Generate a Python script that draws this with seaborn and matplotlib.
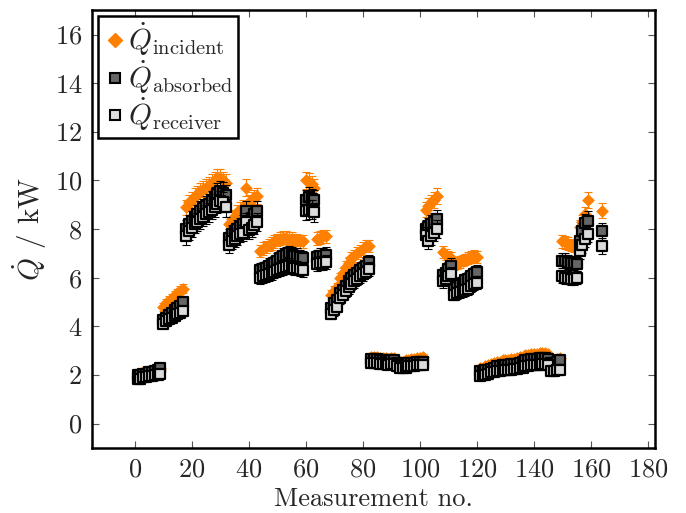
import matplotlib
matplotlib.use("Agg")
import matplotlib.pyplot as plt
from matplotlib.lines import Line2D
import seaborn as sns
import pandas as pd

# ---------------- data ----------------
measurement_no = [
    1, 2, 3, 4, 5, 6, 7, 8, 9,
    10, 11, 12, 13, 14, 15, 16, 17,
    18, 19, 20, 21, 22, 23, 24, 25, 26, 27, 28, 29, 30, 31, 32,
    33, 34, 35, 36, 37, 38, 39, 40, 41, 42, 43,
    44, 45, 46, 47, 48, 49, 50, 51, 52, 53, 54, 55, 56, 57, 58, 59,
    60, 61, 62, 63,
    64, 65, 66, 67,
    69, 70, 71, 72, 73, 74, 75, 76, 77, 78, 79, 80, 81, 82,
    83, 84, 85, 86, 87, 88, 89, 90, 91, 92, 93, 94, 95, 96, 97, 98, 99, 100, 101,
    102, 103, 104, 105, 106,
    108, 109, 110, 111,
    112, 113, 114, 115, 116, 117, 118, 119, 120,
    121, 122, 123, 124, 125, 126, 127, 128, 129, 130, 131, 132, 133, 134, 135,
    136, 137, 138, 139, 140, 141, 142, 143, 144, 145,
    146, 147, 148, 149,
    150, 151, 152, 153, 154, 155,
    156, 157, 158, 159,
    164,
]

q_incident = [
    2.05, 2.05, 2.1, 2.1, 2.15, 2.15, 2.2, 2.25, 2.3,
    4.8, 4.95, 5.05, 5.15, 5.25, 5.35, 5.45, 5.55,
    8.9, 9.1, 9.2, 9.35, 9.45, 9.55, 9.65, 9.7, 9.8, 9.9, 10.0, 10.1, 10.1, 10.0, 9.9,
    8.2, 8.4, 8.5, 8.7, 8.8, 8.9, 9.7, 9.1, 9.2, 9.3, 9.35,
    7.1, 7.2, 7.25, 7.35, 7.4, 7.5, 7.55, 7.6, 7.65, 7.65, 7.6, 7.6, 7.55, 7.55, 7.5, 7.5,
    10.0, 9.95, 9.85, 9.7,
    7.6, 7.65, 7.7, 7.7,
    5.3, 5.45, 5.6, 6.0, 6.2, 6.45, 6.6, 6.8, 6.9, 7.0, 7.1, 7.2, 7.3, 7.3,
    2.75, 2.75, 2.75, 2.7, 2.7, 2.7, 2.65, 2.7, 2.7, 2.6, 2.55, 2.55, 2.6, 2.6, 2.65, 2.65, 2.7, 2.7, 2.75,
    8.8, 8.95, 9.1, 9.2, 9.35,
    7.05, 6.95, 6.85, 6.8,
    6.55, 6.6, 6.65, 6.7, 6.75, 6.8, 6.85, 6.9, 6.85,
    2.3, 2.3, 2.35, 2.4, 2.45, 2.5, 2.55, 2.55, 2.6, 2.6, 2.6, 2.65, 2.65, 2.7, 2.75,
    2.75, 2.8, 2.8, 2.85, 2.85, 2.85, 2.9, 2.9, 2.9, 2.85,
    2.6, 2.6, 2.65, 2.7,
    7.5, 7.45, 7.4, 7.35, 7.3, 7.3,
    8.1, 8.3, 8.6, 9.2,
    8.75,
]

q_absorbed = [
    2.0, 2.0, 2.05, 2.05, 2.1, 2.1, 2.15, 2.2, 2.3,
    4.25, 4.35, 4.45, 4.55, 4.65, 4.75, 4.85, 5.0,
    8.0, 8.2, 8.35, 8.5, 8.6, 8.75, 8.85, 8.95, 9.05, 9.15, 9.3, 9.45, 9.55, 9.5, 9.4,
    7.65, 7.8, 7.9, 8.0, 8.1, 8.2, 8.75, 8.3, 8.45, 8.6, 8.75,
    6.3, 6.35, 6.4, 6.5, 6.55, 6.6, 6.7, 6.8, 6.9, 6.95, 7.0, 6.95, 6.9, 6.9, 6.85, 6.8,
    9.2, 9.3, 9.25, 9.2,
    6.85, 6.9, 6.9, 6.95,
    4.75, 4.95, 5.1, 5.35, 5.5, 5.65, 5.85, 6.0, 6.1, 6.2, 6.3, 6.4, 6.5, 6.65,
    2.65, 2.65, 2.65, 2.6, 2.6, 2.6, 2.55, 2.6, 2.6, 2.5, 2.45, 2.45, 2.5, 2.5, 2.5, 2.5, 2.55, 2.55, 2.55,
    8.0, 8.1, 8.2, 8.3, 8.4,
    6.1, 6.2, 6.35, 6.5,
    5.55, 5.6, 5.7, 5.8, 5.9, 5.95, 6.05, 6.15, 6.25,
    2.15, 2.15, 2.2, 2.2, 2.25, 2.3, 2.35, 2.35, 2.4, 2.4, 2.4, 2.45, 2.45, 2.45, 2.5,
    2.55, 2.6, 2.6, 2.65, 2.65, 2.65, 2.7, 2.7, 2.7, 2.65,
    2.5, 2.5, 2.55, 2.6,
    6.7, 6.7, 6.65, 6.6, 6.6, 6.55,
    7.5, 7.9, 8.25, 8.35,
    7.9,
]

q_receiver = [
    1.85, 1.85, 1.9, 1.9, 1.95, 1.95, 2.0, 2.0, 2.05,
    4.1, 4.2, 4.28, 4.35, 4.42, 4.5, 4.55, 4.62,
    7.7, 7.9, 8.05, 8.2, 8.3, 8.4, 8.5, 8.6, 8.7, 8.8, 8.9, 9.05, 9.15, 9.1, 8.9,
    7.35, 7.5, 7.6, 7.7, 7.8, 7.85, 8.3, 7.95, 8.05, 8.15, 8.3,
    6.0, 6.05, 6.1, 6.15, 6.2, 6.25, 6.3, 6.35, 6.4, 6.45, 6.5, 6.45, 6.4, 6.4, 6.35, 6.3,
    8.75, 8.8, 8.8, 8.7,
    6.55, 6.6, 6.6, 6.65,
    4.5, 4.65, 4.8, 5.15, 5.3, 5.45, 5.6, 5.75, 5.85, 5.95, 6.05, 6.15, 6.25, 6.35,
    2.5, 2.5, 2.5, 2.45, 2.45, 2.45, 2.4, 2.45, 2.45, 2.35, 2.3, 2.3, 2.3, 2.35, 2.35, 2.35, 2.4, 2.4, 2.4,
    7.75, 7.5, 7.7, 7.85, 8.0,
    5.85, 5.95, 6.05, 6.15,
    5.3, 5.35, 5.4, 5.45, 5.5, 5.55, 5.65, 5.75, 5.8,
    1.95, 2.0, 2.0, 2.05, 2.1, 2.1, 2.15, 2.15, 2.2, 2.2, 2.2, 2.2, 2.25, 2.25, 2.3,
    2.3, 2.35, 2.35, 2.4, 2.4, 2.4, 2.4, 2.45, 2.45, 2.4,
    2.15, 2.15, 2.2, 2.2,
    6.05, 6.0, 6.0, 5.95, 5.95, 6.0,
    7.1, 7.35, 7.6, 7.8,
    7.3,
]

rel_err_incident = 0.035
rel_err_absorbed = 0.045
rel_err_receiver = 0.045

series_labels = [r"$\dot{Q}_\mathrm{incident}$",
                 r"$\dot{Q}_\mathrm{absorbed}$",
                 r"$\dot{Q}_\mathrm{receiver}$"]
x_ticks = [0, 20, 40, 60, 80, 100, 120, 140, 160, 180]
y_ticks = [0, 2, 4, 6, 8, 10, 12, 14, 16]

# ---------------- style ----------------
sns.set_style("ticks")
plt.rcParams["font.family"] = ["serif"]
plt.rcParams["font.serif"] = ["cmr10", "DejaVu Serif"]
plt.rcParams["mathtext.fontset"] = "cm"
plt.rcParams["axes.formatter.use_mathtext"] = True
plt.rcParams["axes.unicode_minus"] = False

ORANGE = "#ff8000"
DARK = "#666666"
LIGHT = "#dcdcdc"

df = pd.DataFrame({
    "n": measurement_no,
    "inc": q_incident,
    "abs": q_absorbed,
    "rec": q_receiver,
})

fig = plt.figure(figsize=(6.86, 5.13), dpi=100)
ax = fig.add_axes([0.134, 0.127, 0.821, 0.853])

# incident
ax.errorbar(df["n"], df["inc"], yerr=df["inc"] * rel_err_incident, fmt="none",
            ecolor=ORANGE, elinewidth=0.8, capsize=3, capthick=0.8, zorder=1)
sns.scatterplot(data=df, x="n", y="inc", ax=ax, marker="D", s=36,
                color=ORANGE, edgecolor=ORANGE, linewidth=0.5, zorder=2, legend=False)
# absorbed
ax.errorbar(df["n"], df["abs"], yerr=df["abs"] * rel_err_absorbed, fmt="none",
            ecolor="black", elinewidth=0.8, capsize=3, capthick=0.8, zorder=3)
sns.scatterplot(data=df, x="n", y="abs", ax=ax, marker="s", s=58,
                color=DARK, edgecolor="black", linewidth=1.6, zorder=4, legend=False)
# receiver
ax.errorbar(df["n"], df["rec"], yerr=df["rec"] * rel_err_receiver, fmt="none",
            ecolor="black", elinewidth=0.8, capsize=3, capthick=0.8, zorder=5)
sns.scatterplot(data=df, x="n", y="rec", ax=ax, marker="s", s=58,
                color=LIGHT, edgecolor="black", linewidth=1.6, zorder=6, legend=False)

ax.set_xlim(-15, 182.5)
ax.set_ylim(-1, 17)
ax.set_xticks(x_ticks)
ax.set_yticks(y_ticks)
ax.tick_params(direction="in", top=True, right=True, length=5, width=0.8,
               color="#555555", labelsize=19, pad=7)
for sp in ax.spines.values():
    sp.set_linewidth(1.8)
    sp.set_color("black")

ax.set_xlabel("Measurement no.", fontsize=19, labelpad=4)
ax.set_ylabel(r"$\dot{Q}$ / kW", fontsize=21, labelpad=4)

handles = [
    Line2D([], [], marker="D", linestyle="none", color=ORANGE, markeredgecolor=ORANGE,
           markersize=7),
    Line2D([], [], marker="s", linestyle="none", markerfacecolor=DARK,
           markeredgecolor="black", markeredgewidth=1.5, markersize=6.5),
    Line2D([], [], marker="s", linestyle="none", markerfacecolor=LIGHT,
           markeredgecolor="black", markeredgewidth=1.5, markersize=6.5),
]
leg = ax.legend(handles, series_labels, loc="upper left", fontsize=21,
                frameon=True, fancybox=False, framealpha=1, edgecolor="black",
                borderpad=0.15, handletextpad=0.0, labelspacing=0.0,
                handlelength=0.9, borderaxespad=0.2)
leg.get_frame().set_linewidth(1.8)

fig.savefig("out.png", dpi=100)
